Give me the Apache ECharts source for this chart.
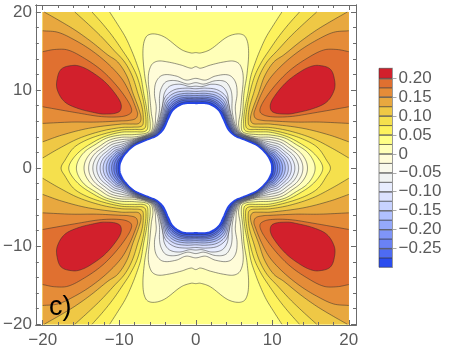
<!DOCTYPE html>
<html>
<head>
<meta charset="utf-8">
<style>html,body{margin:0;padding:0;background:#fff}#c{width:451px;height:352px}</style>
<script src="https://cdn.jsdelivr.net/npm/echarts@6/dist/echarts.min.js"></script>
</head>
<body>
<div id="c"></div>
<script>
// Contour lines, upper-right quadrant, in data units [x, y].
const level_p200 = [[16.05,13.16],[17.57,12.69],[18.14,11.28],[18.09,10],[17.14,8.5],[15.4,7.65],[13.2,7.1],[11.9,6.92],[10.05,7.2],[9.74,8.08],[10.4,9.36],[11.9,11.07],[13.66,12.35],[14.96,13]];
const level_p175 = [[20,14.92],[18.44,15.2],[16.7,15.13],[14.53,14.06],[12.35,12.57],[10.6,10.86],[9.09,8.93],[8.4,7.6],[8.55,7],[9.73,6.6],[12.3,6.6],[15.3,7.05],[20,7.86]];
const level_p150 = [[20,17.6],[18,17.4],[15.8,16.4],[13.65,15.1],[11.5,13.4],[9.7,11.5],[8.6,9.57],[7.75,7.5],[7.6,6.9],[7.85,6.35],[8.8,6.1],[9.7,6.05],[13,5.9],[16.2,5.9],[20,5.73]];
const level_p125 = [[19.8,20],[18,19],[15.8,17.7],[13.65,16.2],[11.5,14.5],[10.2,13.6],[9,11.8],[8.2,9.57],[7.45,7.6],[7.15,6.4],[7.4,5.75],[8.3,5.65],[9.73,5.64],[14,5.1],[17.5,4.23],[20,3.37]];
const level_p100 = [[15.8,20],[14,18.4],[12.3,16.8],[10.7,15.1],[9.3,13.6],[8.3,11.8],[7.56,9.57],[7,7.7],[6.85,6.1],[7.05,5.4],[8.2,5.25],[9.73,5.2],[12.3,4.75],[15.3,3.8],[17.9,2.5],[20,1.3]];
const level_p075 = [[13.55,20],[12.1,18.4],[10.8,16.8],[9.6,15.1],[8.6,13.6],[7.7,11.8],[7.05,9.57],[6.65,7.5],[6.5,5.8],[6.75,5.05],[8,4.95],[9.73,4.88],[12.3,4.3],[14.5,3.5],[16,2.56],[17.1,1],[17.6,0]];
const level_p050 = [[11.25,20],[10.2,18.4],[9.2,16.8],[8.4,15.1],[7.8,13.6],[7.2,11.8],[6.8,9.57],[6.4,7.5],[6.25,5.7],[6.5,4.78],[8,4.65],[9.73,4.6],[11.9,4.05],[13.6,3.2],[15.1,2.2],[16.2,1],[16.6,0]];
const level_p025 = [[0,14.8],[.6,14.75],[1.9,15.2],[4.1,16.8],[5.6,17.2],[6.5,16.8],[6.9,15.1],[6.7,12.1],[6.3,9.6],[6.15,7.4],[5.95,5.5],[6.2,4.6],[8,4.3],[9.73,4.25],[11.64,3.85],[13.16,3],[14.47,2.14],[15.3,1.07],[15.6,0]];
const level_z000 = [[0,13],[.6,12.8],[1.9,13.2],[3.65,13.6],[5,13.7],[5.8,13.2],[6.2,11.7],[6,9.1],[5.8,7],[5.6,5.5],[6,4.52],[8,4],[9.73,3.95],[11.31,3.58],[12.58,2.79],[13.67,1.99],[14.38,.99],[14.6,0]];
const level_m025 = [[0,11.5],[1.26,11.28],[2.57,11.8],[4.3,11.92],[5.17,11.07],[5.4,9.57],[5.17,7.86],[5.25,6.6],[5.35,5.5],[5.9,4.48],[8,3.8],[9.73,3.65],[11.12,3.31],[12.23,2.58],[13.19,1.84],[13.81,.91],[14,0]];
const level_m050 = [[0,10.95],[1.05,10.77],[2.57,11.2],[3.87,11.07],[4.52,10.2],[4.74,9.15],[4.75,7.4],[5.18,5.5],[5.82,4.46],[8,3.7],[9.73,3.35],[10.94,3.04],[11.91,2.37],[12.74,1.69],[13.28,.84],[13.45,0]];
const level_m075 = [[0,10.5],[.8,10.45],[2.1,10.75],[3.4,10.5],[4.1,9.6],[4.3,8.3],[4.6,7],[5.05,5.5],[5.76,4.44],[8,3.62],[9.73,3.05],[10.78,2.76],[11.61,2.15],[12.34,1.54],[12.8,.76],[12.95,0]];
const level_m100 = [[0,10.17],[1.3,10.25],[2.9,10],[4.05,9],[4.5,7],[4.95,5.5],[5.7,4.42],[8,3.54],[9.73,2.8],[10.63,2.54],[11.35,1.98],[11.97,1.41],[12.38,.7],[12.5,0]];
const level_m125 = [[0,9.83],[1.3,9.88],[2.8,9.62],[3.9,8.7],[4.35,7],[4.85,5.5],[5.64,4.4],[8,3.47],[9.73,2.55],[10.5,2.31],[11.12,1.8],[11.65,1.29],[12,.64],[12.1,0]];
const level_m150 = [[0,9.55],[1.3,9.58],[2.7,9.3],[3.75,8.45],[4.2,7],[4.75,5.5],[5.58,4.38],[8,3.4],[9.73,2.35],[10.37,2.13],[10.88,1.66],[11.33,1.18],[11.61,.59],[11.7,0]];
const level_m175 = [[0,9.3],[1.3,9.32],[2.6,9.05],[3.6,8.25],[4.05,7],[4.64,5.5],[5.5,4.36],[8,3.32],[9.73,2.15],[10.26,1.95],[10.68,1.52],[11.04,1.08],[11.28,.54],[11.35,0]];
const level_m200 = [[0,9.06],[1.3,9.08],[2.5,8.8],[3.45,8.05],[3.92,7],[4.54,5.5],[5.42,4.33],[8,3.24],[9.73,1.95],[10.14,1.77],[10.47,1.38],[10.76,.98],[10.94,.49],[11,0]];
const level_m225 = [[0,8.89],[1.3,8.9],[2.4,8.6],[3.3,7.9],[3.8,7],[4.43,5.5],[5.34,4.3],[8,3.16],[9.73,1.75],[10.05,1.59],[10.3,1.24],[10.52,.88],[10.66,.44],[10.7,0]];
const level_m250 = [[0,8.72],[1.3,8.72],[2.3,8.45],[3.2,7.75],[3.68,7],[4.32,5.5],[5.26,4.26],[8,3.08],[9.73,1.55],[10.12,1.09],[10.27,.78],[10.37,.39],[10.4,0]];
const level_m275 = [[0,8.5],[1.3,8.5],[2.2,8.25],[3.1,7.55],[3.55,7],[4.2,5.5],[5.18,4.22],[8,3],[9.73,1.38],[9.98,.97],[10.07,.7],[10.13,.35],[10.15,0]];
const hole_edge = [[0,8.3],[1.3,8.3],[2.1,8.05],[3,7.4],[3.6,6.3],[4.25,4.95],[5.1,4.15],[6.3,3.65],[8.1,2.85],[9.3,1.7],[9.85,.7],[9.95,0]];

const bandColors = ['#2a4cef','#4e6bf2','#6a82f5','#7f95f8','#95a9fb','#b0c0ff','#c7d2ff','#dbe1ff','#e8edff','#f0f3f3','#f9f9ec','#fffcd8','#ffffb8','#ffff85','#fdf25c','#f5e04d','#efc845','#e8a83f','#e58c38','#e07030','#d2202c'];
const bandLows = [-0.3,-0.275,-0.25,-0.225,-0.2,-0.175,-0.15,-0.125,-0.1,-0.075,-0.05,-0.025,0,0.025,0.05,0.075,0.1,0.125,0.15,0.175,0.2];
const barTop = 0.2265;
const barTicks = [0.2,0.15,0.1,0.05,0,-0.05,-0.1,-0.15,-0.2,-0.25];
const majorTicks = [-20,-10,0,10,20];
const minorTicks = [-18,-16,-14,-12,-8,-6,-4,-2,2,4,6,8,12,14,16,18];

// kind + colour of the band each contour encloses (index into bandColors)
const contours = [
  {pts:level_p050,kind:'side',band:14},{pts:level_p075,kind:'side',band:15},
  {pts:level_p100,kind:'corner',band:16},{pts:level_p125,kind:'corner',band:17},
  {pts:level_p150,kind:'edge',band:18},{pts:level_p175,kind:'edge',band:19},
  {pts:level_p200,kind:'island',band:20},
  {pts:level_p025,kind:'loop',band:12},{pts:level_z000,kind:'loop',band:11},
  {pts:level_m025,kind:'loop',band:10},{pts:level_m050,kind:'loop',band:9},
  {pts:level_m075,kind:'loop',band:8},{pts:level_m100,kind:'loop',band:7},
  {pts:level_m125,kind:'loop',band:6},{pts:level_m150,kind:'loop',band:5},
  {pts:level_m175,kind:'loop',band:4},{pts:level_m200,kind:'loop',band:3},
  {pts:level_m225,kind:'loop',band:2},{pts:level_m250,kind:'loop',band:1},
  {pts:level_m275,kind:'loop',band:0},{pts:hole_edge,kind:'hole',band:-1}
];

const LINE = 'rgba(45,45,45,0.6)';
function smooth(p, closed){
  const n = p.length, out = [];
  const at = i => closed ? p[(i+n)%n] : p[Math.max(0,Math.min(n-1,i))];
  const tan = i => {
    const a = at(i-1), b = at(i+1);
    const dx = b[0]-a[0], dy = b[1]-a[1], l = Math.hypot(dx,dy)||1;
    return [dx/l, dy/l];
  };
  const segs = closed ? n : n-1;
  for (let i=0;i<segs;i++){
    const a = at(i), b = at(i+1), ta = tan(i), tb = tan(i+1);
    const d = Math.hypot(b[0]-a[0], b[1]-a[1])/3;
    const c1 = [a[0]+ta[0]*d, a[1]+ta[1]*d], c2 = [b[0]-tb[0]*d, b[1]-tb[1]*d];
    for (let k=0;k<8;k++){
      const t=k/8,u=1-t;
      out.push([u*u*u*a[0]+3*u*u*t*c1[0]+3*u*t*t*c2[0]+t*t*t*b[0],
                u*u*u*a[1]+3*u*u*t*c1[1]+3*u*t*t*c2[1]+t*t*t*b[1]]);
    }
  }
  if(!closed) out.push(at(n-1));
  return out;
}
function renderContour(params, api){
  const idx = api.value(0);
  const lo = api.coord([-20,-20]), hi = api.coord([20,20]);
  if (idx < 0) {
    return {type:'rect',silent:true,shape:{x:lo[0],y:hi[1],width:hi[0]-lo[0],height:lo[1]-hi[1]},style:{fill:bandColors[13]}};
  }
  const spec = contours[idx], pts = spec.pts;
  const fill = spec.band < 0 ? '#ffffff' : bandColors[spec.band];
  const toPx = (p,sx,sy) => api.coord([p[0]*sx,p[1]*sy]);
  const clamp = c => [Math.max(lo[0],Math.min(hi[0],c[0])), Math.max(hi[1],Math.min(lo[1],c[1]))];
  const kids = [];
  const add = (curve, extra, closed) => {
    const s = smooth(curve, closed).map(clamp);
    const isHole = spec.kind === 'hole';
    kids.push({type:'polygon',silent:true,shape:{points:s.concat(extra)},
               style:{fill:fill,stroke:isHole?'#2444e6':null,lineWidth:isHole?1.6:0}});
    if (!isHole) {
      kids.push({type:closed?'polygon':'polyline',silent:true,shape:{points:s},style:{fill:null,stroke:LINE,lineWidth:0.85}});
    }
  };
  if (spec.kind === 'loop' || spec.kind === 'hole') {
    const full = [];
    pts.forEach(p=>full.push(toPx(p,1,1)));
    pts.slice(0,-1).reverse().forEach(p=>full.push(toPx(p,1,-1)));
    pts.slice(1).forEach(p=>full.push(toPx(p,-1,-1)));
    pts.slice(1,-1).reverse().forEach(p=>full.push(toPx(p,-1,1)));
    add(full,[],true);
  } else if (spec.kind === 'side') {
    [1,-1].forEach(sx=>{
      const c = [];
      pts.forEach(p=>c.push(toPx(p,sx,1)));
      pts.slice(0,-1).reverse().forEach(p=>c.push(toPx(p,sx,-1)));
      add(c,[api.coord([20*sx,-20]),api.coord([20*sx,20])],false);
    });
  } else {
    [[1,1],[1,-1],[-1,1],[-1,-1]].forEach(([sx,sy])=>{
      const c = pts.map(p=>toPx(p,sx,sy));
      if (spec.kind === 'corner') add(c,[api.coord([20*sx,20*sy])],false);
      else if (spec.kind === 'edge') add(c,[],false);
      else add(c,[],true);
    });
  }
  return {type:'group',children:kids};
}
function renderBand(params, api){
  const i = api.value(0);
  const low = bandLows[i], high = i+1<bandLows.length ? bandLows[i+1] : barTop;
  const a = api.coord([0,high]), b = api.coord([1,low]);
  return {type:'rect',silent:true,shape:{x:a[0],y:a[1],width:b[0]-a[0],height:b[1]-a[1]},
          style:{fill:bandColors[i],stroke:'rgba(50,50,50,0.7)',lineWidth:0.8}};
}

const FRAME = '#6b6b6b';
const TXT = '#5a5a5a';
const FONT = '"Liberation Sans", Arial, sans-serif';
const fmt = v => String(v).replace('-','\u2212');
const fmtBar = v => v === 0 ? '0' : (v<0?'\u2212':'') + Math.abs(v).toFixed(2);
const XR = [-20.9,20.94], YR = [-20.1,20.9];

function frameAxis(pos, ticks, len, label, range){
  return {
    type:'value', gridIndex:0, position:pos, min:range[0], max:range[1], z:6,
    axisLine:{show:true,onZero:false,lineStyle:{color:FRAME,width:1}},
    axisTick:{show:true,inside:true,length:len,customValues:ticks,lineStyle:{color:FRAME,width:1}},
    axisLabel:label ? {show:true,customValues:ticks,formatter:fmt,color:TXT,fontSize:17,fontFamily:FONT,
                       margin:(pos==='bottom'?7:4),hideOverlap:false,showMinLabel:true,showMaxLabel:true}
                    : {show:false},
    splitLine:{show:false}, minorTick:{show:false}
  };
}
const xAxes = [
  frameAxis('bottom',majorTicks,5,true,XR), frameAxis('bottom',minorTicks,3,false,XR),
  frameAxis('top',majorTicks,5,false,XR), frameAxis('top',minorTicks,3,false,XR),
  {type:'value',gridIndex:1,min:0,max:1,show:false}
];
const yAxes = [
  frameAxis('left',majorTicks,5,true,YR), frameAxis('left',minorTicks,3,false,YR),
  frameAxis('right',majorTicks,5,false,YR), frameAxis('right',minorTicks,3,false,YR),
  {type:'value',gridIndex:1,position:'right',min:-0.3,max:barTop,z:6,
   axisLine:{show:true,onZero:false,lineStyle:{color:'#9a9a9a',width:1}},
   axisTick:{show:true,length:4,customValues:barTicks,lineStyle:{color:'#aaaaaa',width:1}},
   axisLabel:{show:true,customValues:barTicks,formatter:fmtBar,color:TXT,fontSize:17,fontFamily:FONT,margin:6,hideOverlap:false},
   splitLine:{show:false}},
  {type:'value',gridIndex:1,position:'right',min:-0.3,max:barTop,z:6,
   axisLine:{show:false,onZero:false},
   axisTick:{show:true,inside:true,length:13,customValues:barTicks,lineStyle:{color:'rgba(110,110,110,0.6)',width:1.5}},
   axisLabel:{show:false},splitLine:{show:false}}
];

const chart = echarts.init(document.getElementById('c'),null,{renderer:'canvas'});
chart.setOption({
  animation:false,
  backgroundColor:'#ffffff',
  grid:[{left:35,top:5,width:321,height:320},{left:379,top:68.3,width:13.5,height:199}],
  xAxis:xAxes, yAxis:yAxes,
  series:[
    {type:'custom',xAxisIndex:0,yAxisIndex:0,clip:false,z:2,renderItem:renderContour,
     data:[-1].concat(contours.map((_,i)=>i)).map(i=>[i])},
    {type:'custom',xAxisIndex:4,yAxisIndex:4,clip:false,z:2,renderItem:renderBand,
     data:bandLows.map((_,i)=>[i])}
  ],
  graphic:[{type:'text',z:20,left:49,top:294,silent:true,
    style:{text:'c)',fill:'#000',fontSize:27,fontFamily:FONT}}]
});
</script>
</body>
</html>
